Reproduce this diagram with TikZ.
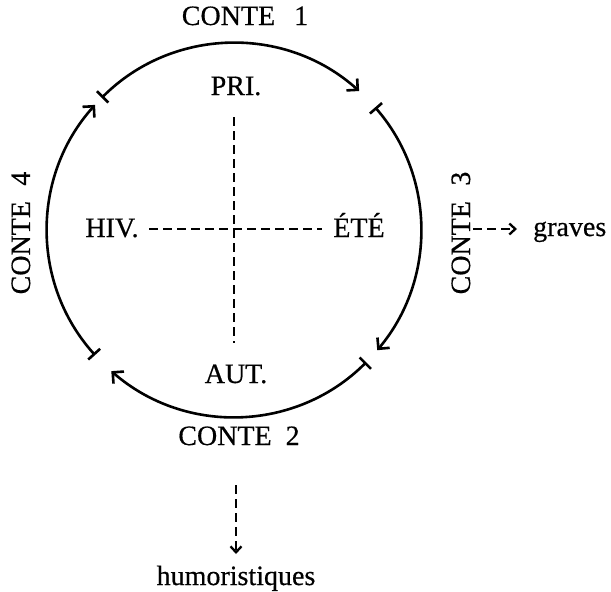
\documentclass[tikz,border=0pt]{standalone}
\usepackage{fontspec}
\setmainfont{Liberation Serif}
\newfontfamily\lblfont{Liberation Serif}[FakeBold=0.5]
\usetikzlibrary{arrows.meta}
\begin{document}
\begin{tikzpicture}[x=1pt,y=1pt,
  lbl/.style={font=\lblfont\fontsize{28}{32}\selectfont, inner sep=0pt, anchor=base},
  cyc/.style={line width=2.6pt, {Bar[width=16pt,line width=2.6pt]}-{Straight Barb[length=8pt,width=16pt,line width=2.6pt]}},
  dsh/.style={line width=1.7pt, dash pattern=on 9pt off 5pt},
  dsharrow/.style={dsh, -{Straight Barb[length=6pt,width=11pt,line width=2.3pt]}}]
\useasboundingbox (0,0) rectangle (611,-592);
\coordinate (c) at (234,-230);
\def\R{187}
% the four arcs
\draw[cyc] ([shift={(135:\R)}]c) arc[start angle=135,end angle=48,radius=\R];
\draw[cyc] ([shift={(41:\R)}]c) arc[start angle=41,end angle=-40,radius=\R];
\draw[cyc] ([shift={(-45:\R)}]c) arc[start angle=-45,end angle=-131,radius=\R];
\draw[cyc] ([shift={(-138:\R)}]c) arc[start angle=-138,end angle=-222,radius=\R];
% labels
\node[lbl] (c1) at (245,-25) {CONTE\hspace{0.68em}1};
\node[lbl] (c2) at (239,-445) {CONTE\hspace{0.5em}2};
\node[lbl,rotate=90] (c4) at (30,-233) {CONTE\hspace{0.55em}4};
\node[lbl,rotate=90] (c3) at (470,-233) {CONTE\hspace{0.55em}3};
\node[lbl] (pri) at (236,-95) {PRI.};
\node[lbl] (aut) at (236,-383) {AUT.};
\node[lbl] (hiv) at (112,-237) {HIV.};
\node[lbl] (ete) at (359,-237) {ÉTÉ};
\node[lbl,anchor=base west] (gr) at (533,-236) {graves};
\node[lbl] (hum) at (236,-585) {humoristiques};
% dashed cross
\coordinate (vt) at (234,-117);
\coordinate (vb) at (234,-343);
\coordinate (hl) at (149,-229);
\coordinate (hr) at (322,-229);
\draw[dsh] (vt) -- (vb);
\draw[dsh] (hl) -- (hr);
% dashed arrows
\coordinate (ga) at (473,-229);
\coordinate (gb) at (517,-229);
\coordinate (ha) at (236,-485);
\coordinate (hb) at (236,-554);
\draw[dsharrow] (ga) -- (gb);
\draw[dsharrow] (ha) -- (hb);
\end{tikzpicture}
\end{document}
